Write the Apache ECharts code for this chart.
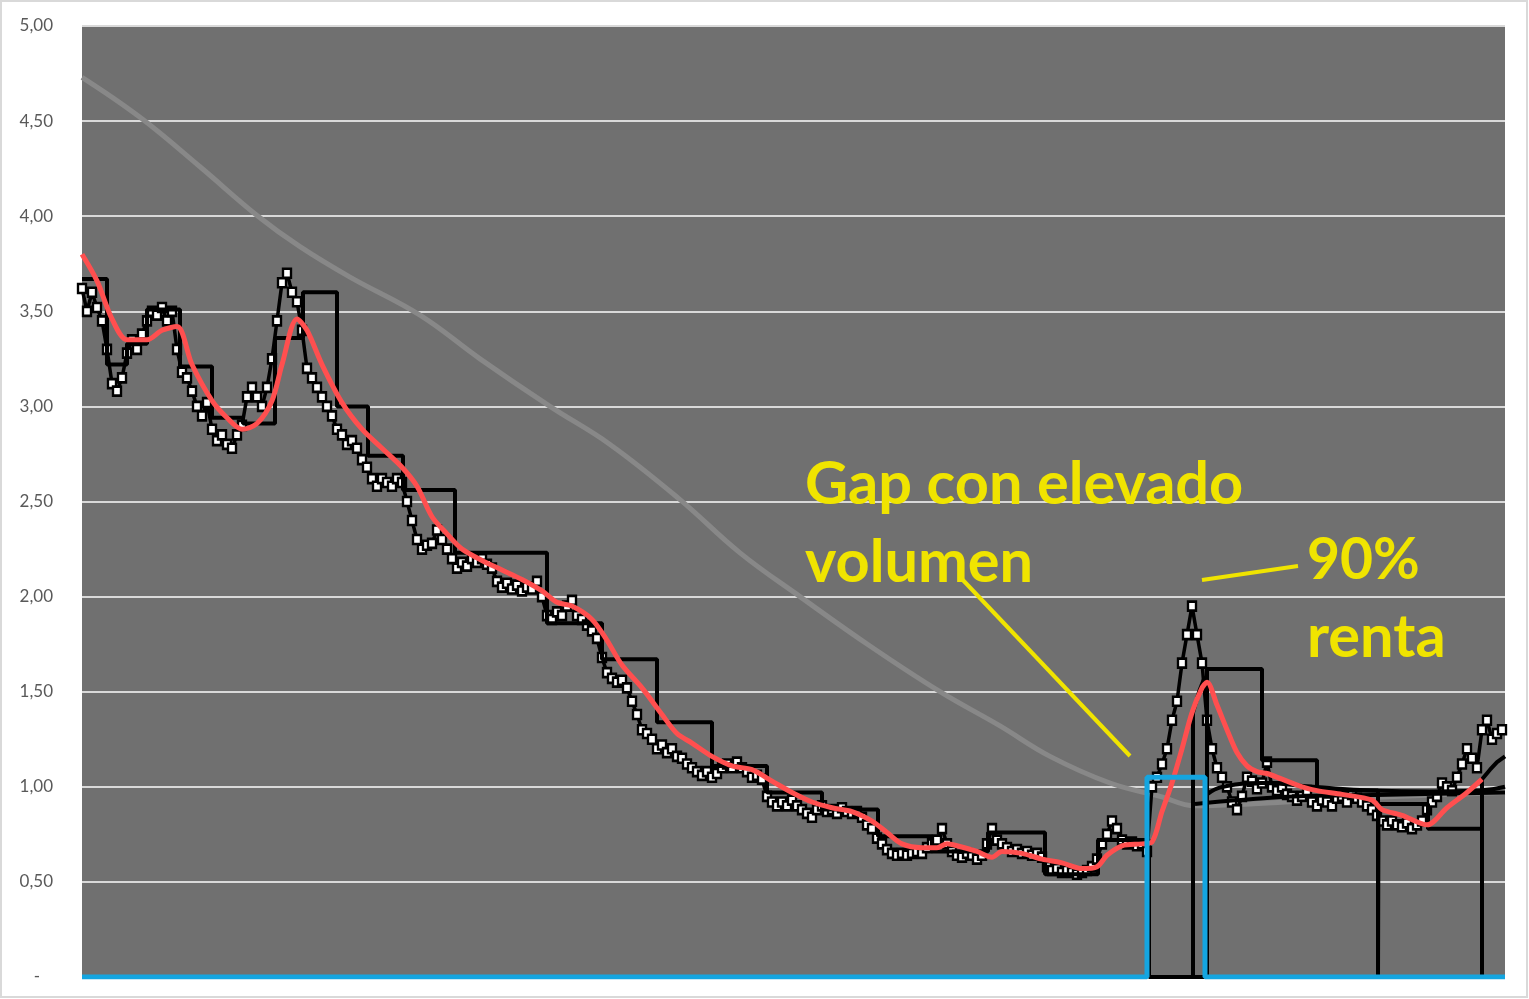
<!DOCTYPE html>
<html>
<head>
<meta charset="utf-8">
<script src="https://cdn.jsdelivr.net/npm/echarts@6/dist/echarts.min.js"></script>
<style>html,body{margin:0;padding:0;background:#fff}#c{width:1529px;height:999px}</style>
</head>
<body>
<div id="c"></div>
<script>
// ---- DATA ----
// daily closing price (one value per session index)
const price = [
3.62,3.50,3.60,3.52,3.45,3.30,3.12,3.08,3.15,3.28,3.35,3.30,3.38,3.45,3.50,3.48,3.52,3.45,3.50,3.30,
3.18,3.15,3.08,3.00,2.95,3.02,2.88,2.82,2.85,2.80,2.78,2.85,2.90,3.05,3.10,3.05,3.00,3.10,3.25,3.45,
3.65,3.70,3.60,3.55,3.40,3.20,3.15,3.10,3.05,3.00,2.95,2.88,2.85,2.80,2.82,2.78,2.72,2.68,2.62,2.58,
2.62,2.60,2.58,2.62,2.60,2.50,2.40,2.30,2.25,2.27,2.28,2.35,2.30,2.25,2.20,2.15,2.18,2.16,2.20,2.18,
2.20,2.17,2.15,2.08,2.05,2.07,2.04,2.06,2.03,2.05,2.04,2.08,2.00,1.90,1.88,1.92,1.90,1.95,1.98,1.90,
1.88,1.85,1.82,1.78,1.68,1.60,1.57,1.55,1.56,1.52,1.45,1.38,1.30,1.28,1.25,1.20,1.22,1.18,1.20,1.16,
1.15,1.12,1.10,1.08,1.06,1.08,1.05,1.07,1.10,1.12,1.10,1.13,1.10,1.08,1.05,1.06,1.04,0.95,0.92,0.90,
0.92,0.90,0.93,0.90,0.88,0.86,0.84,0.88,0.90,0.87,0.88,0.86,0.89,0.87,0.86,0.87,0.84,0.80,0.78,0.73,
0.70,0.67,0.65,0.64,0.65,0.64,0.65,0.66,0.65,0.68,0.70,0.72,0.78,0.70,0.66,0.64,0.63,0.65,0.64,0.62,
0.64,0.70,0.78,0.72,0.70,0.68,0.66,0.67,0.65,0.66,0.64,0.65,0.63,0.58,0.56,0.57,0.55,0.56,0.55,0.54,
0.55,0.56,0.58,0.62,0.70,0.75,0.82,0.78,0.72,0.70,0.71,0.69,0.70,0.66,1.00,1.05,1.12,1.20,1.35,1.45,
1.65,1.80,1.95,1.80,1.65,1.35,1.20,1.10,1.05,1.00,0.92,0.88,0.95,1.05,1.03,0.99,1.02,1.13,1.00,0.98,
1.00,0.96,0.95,0.93,0.95,0.98,0.92,0.90,0.93,0.92,0.90,0.94,0.95,0.92,0.96,0.94,0.92,0.90,0.88,0.85,
0.82,0.80,0.82,0.80,0.79,0.81,0.78,0.80,0.82,0.88,0.92,0.95,1.02,1.00,0.98,1.05,1.12,1.20,1.15,1.10,
1.30,1.35,1.25,1.28,1.30
];
// short moving average (red)
const maIdx = [0,3,6,9,13,16,19,22,26,29,32,35,38,40,43,45,48,52,56,60,64,67,70,73,76,80,84,88,92,95,98,102,105,108,112,116,119,122,126,130,134,138,142,146,150,154,158,161,164,168,171,173,175,179,182,184,188,192,196,200,203,205,208,212,214,216,218,220,222,224,225,227,229,231,233,235,237,240,244,247,252,258,260,264,269,273,277,280];
const maVal = [3.80,3.66,3.46,3.35,3.35,3.40,3.42,3.22,3.03,2.94,2.88,2.91,3.03,3.22,3.46,3.40,3.22,3.02,2.88,2.78,2.68,2.58,2.42,2.33,2.25,2.19,2.14,2.09,2.03,1.97,1.95,1.88,1.77,1.64,1.52,1.38,1.28,1.23,1.16,1.11,1.09,1.03,0.97,0.92,0.89,0.87,0.82,0.76,0.70,0.68,0.68,0.70,0.69,0.66,0.63,0.66,0.65,0.62,0.60,0.57,0.58,0.64,0.69,0.70,0.71,0.87,1.02,1.20,1.39,1.52,1.55,1.43,1.30,1.18,1.11,1.08,1.07,1.04,1.00,0.98,0.96,0.93,0.88,0.85,0.80,0.89,0.97,1.04];
// long moving average (grey)
const longIdx = [0,11.6,23.6,35.2,43.6,53.6,67.6,79.6,93.6,105.6,119.6,131.6,143.6,157.6,171.6,183.6,193.6,205.6,215.6,222.6,233.6,247.6,263.6,284.6];
const longVal = [4.73,4.52,4.26,4.00,3.84,3.68,3.48,3.25,3.00,2.80,2.51,2.23,2.00,1.74,1.50,1.32,1.16,1.02,0.95,0.90,0.91,0.93,0.95,0.97];
// monthly reference level (black steps)
const stepIdx = [0,5,9,13,19.6,26,32.2,38.6,44.2,51,57.2,64.2,74.6,93,104,115,126,137,148,159.2,170,181.2,192.6,203.2,213.4,225,236,247,259.2,259.3,269.2,280];
const stepVal = [3.67,3.22,3.33,3.51,3.21,2.94,2.91,3.36,3.60,3.00,2.74,2.56,2.23,1.86,1.67,1.34,1.11,0.97,0.88,0.74,0.66,0.76,0.54,0.72,0,1.62,1.14,0.98,0,0.91,0.78,0];
// other averages after the gap (black curves)
const avgAIdx = [222.2,222.2,223.4,224.6];
const avgAVal = [0,1.39,1.50,1.58];
const avgBIdx = [222.6,226.6,233.6,243.6,253.6,263.6,273.6,284.6];
const avgBVal = [0.91,0.92,0.935,0.95,0.955,0.96,0.965,0.97];
const avgCIdx = [225,228.2,236.2,246.2,258.2,269.6,279.6,284.6];
const avgCVal = [0.96,1.00,1.02,1.00,0.98,0.975,0.98,1.00];
const avgDIdx = [280,280,281.6,283,284.6];
const avgDVal = [0,1.04,1.09,1.13,1.16];
// volume marker (blue)
const volIdx = [0,213,224.6,284.6];
const volVal = [0,1.05,0,0];
// y tick labels
const yTicks = [0,0.5,1,1.5,2,2.5,3,3.5,4,4.5,5];

// ---- CHART ----
const pairs = (xs, ys) => xs.map((x, i) => [x, ys[i]]);
const chart = echarts.init(document.getElementById('c'), null, {renderer: 'canvas'});
const fmt = v => v === 0 ? '-   ' : v.toFixed(2).replace('.', ',');

chart.setOption({
  animation: false,
  backgroundColor: '#ffffff',
  grid: {left: 82, right: 24, top: 26, bottom: 22, show: true, backgroundColor: '#707070', borderWidth: 0},
  xAxis: {type: 'value', min: 0, max: 284.6, show: false},
  yAxis: {
    type: 'value', min: 0, max: 5, interval: 0.5,
    axisLine: {show: false}, axisTick: {show: false},
    axisLabel: {formatter: v => fmt(v), color: '#595959', fontFamily: 'Lato', fontSize: 17, margin: 29},
    splitLine: {lineStyle: {color: '#d9d9d9', width: 2}}
  },
  series: [
    {type: 'line', name: 'long', data: pairs(longIdx, longVal), smooth: 0.4, showSymbol: false,
     lineStyle: {color: '#888888', width: 5}, z: 1},
    {type: 'line', name: 'price', data: price.map((v, i) => [i, v]), showAllSymbol: true,
     symbol: 'rect', symbolSize: [8, 9],
     itemStyle: {color: '#ffffff', borderColor: '#000000', borderWidth: 2.5},
     lineStyle: {color: '#000000', width: 3.5}, z: 2},
    {type: 'line', name: 'step', data: pairs(stepIdx, stepVal), step: 'end', showSymbol: false,
     lineStyle: {color: '#000000', width: 4}, z: 3},
    {type: 'line', name: 'avgA', data: pairs(avgAIdx, avgAVal), showSymbol: false,
     lineStyle: {color: '#000000', width: 4}, z: 3},
    {type: 'line', name: 'avgB', data: pairs(avgBIdx, avgBVal), smooth: true, showSymbol: false,
     lineStyle: {color: '#000000', width: 4}, z: 3},
    {type: 'line', name: 'avgC', data: pairs(avgCIdx, avgCVal), smooth: true, showSymbol: false,
     lineStyle: {color: '#000000', width: 4}, z: 3},
    {type: 'line', name: 'avgD', data: pairs(avgDIdx, avgDVal), showSymbol: false,
     lineStyle: {color: '#000000', width: 4}, z: 3},
    {type: 'line', name: 'ma', data: pairs(maIdx, maVal), smooth: 0.3, showSymbol: false,
     lineStyle: {color: '#ff4f4f', width: 5}, z: 4},
    {type: 'line', name: 'vol', data: pairs(volIdx, volVal), step: 'end', showSymbol: false,
     lineStyle: {color: '#14a5e0', width: 5}, z: 5}
  ],
  graphic: [
    {type: 'rect', shape: {x: 1, y: 1, width: 1526, height: 996}, style: {fill: 'none', stroke: '#d9d9d9', lineWidth: 2}, z: 100},
    {type: 'line', shape: {x1: 960, y1: 577, x2: 1130, y2: 756}, style: {stroke: '#f0e400', lineWidth: 4}, z: 100},
    {type: 'line', shape: {x1: 1202, y1: 580, x2: 1298, y2: 566}, style: {stroke: '#f0e400', lineWidth: 4}, z: 100},
    {type: 'text', x: 805, y: 485, style: {text: 'Gap con elevado', font: 'bold 59.5px Lato', fill: '#f0e400', verticalAlign: 'middle'}, z: 100},
    {type: 'text', x: 805, y: 563, style: {text: 'volumen', font: 'bold 59.5px Lato', fill: '#f0e400', verticalAlign: 'middle'}, z: 100},
    {type: 'text', x: 1307, y: 561, style: {text: '90%', font: 'bold 57px Lato', fill: '#f0e400', verticalAlign: 'middle'}, z: 100},
    {type: 'text', x: 1307, y: 638, style: {text: 'renta', font: 'bold 59.5px Lato', fill: '#f0e400', verticalAlign: 'middle'}, z: 100}
  ]
});
</script>
</body>
</html>
